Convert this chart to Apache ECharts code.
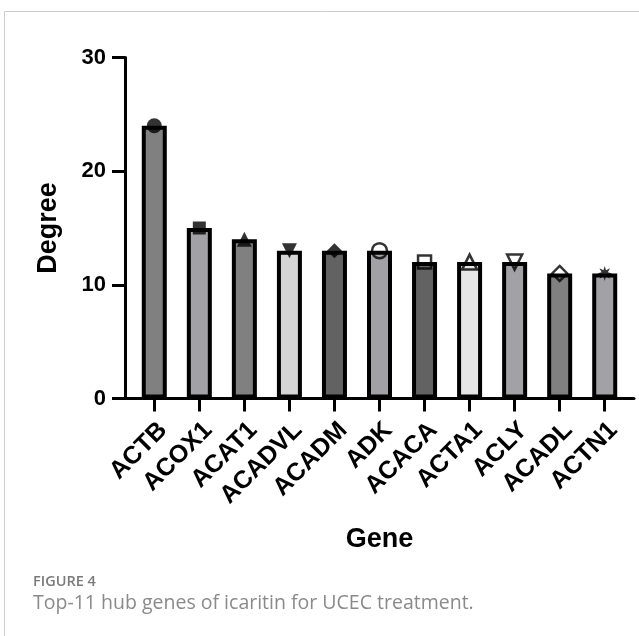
<!DOCTYPE html>
<html><head><meta charset="utf-8">
<script src="https://cdn.jsdelivr.net/npm/echarts@6/dist/echarts.min.js"></script>
<style>html,body{margin:0;padding:0;background:#fff}#c{width:639px;height:636px}</style>
</head><body><div id="c"></div>
<script>
const genes = ['ACTB','ACOX1','ACAT1','ACADVL','ACADM','ADK','ACACA','ACTA1','ACLY','ACADL','ACTN1'];
const degree = [24,15,14,13,13,13,12,12,12,11,11];
const yTicks = [0,10,20,30];
const barColors = ['#808080','#a1a1a6','#808080','#d5d5d5','#626262','#a1a1a6','#626262','#e6e6e6','#a1a1a6','#808080','#a1a1a6'];
// marker shape per gene: [symbol, rotate, filled]
function starPath(){
  let d='';
  for(let k=0;k<16;k++){
    const a=k*Math.PI/8 - Math.PI/2, r=(k%2===0)?10:4.5;
    d+=(k===0?'M':'L')+(r*Math.cos(a)).toFixed(2)+','+(r*Math.sin(a)).toFixed(2)+' ';
  }
  return 'path://'+d+'Z';
}
const markerShapes = [
  ['circle',0,true],['rect',0,true],['triangle',0,true],['triangle',180,true],['diamond',0,true],
  ['circle',0,false],['rect',0,false],['triangle',0,false],['triangle',180,false],['diamond',0,false],
  [starPath(),0,true]
];
const idx = genes.map((g,i)=>i);
const font = 'Liberation Sans, Arial, Helvetica, sans-serif';

const chart = echarts.init(document.getElementById('c'));
chart.setOption({
  animation:false,
  backgroundColor:'#fff',
  grid:{left:125,right:5,top:57.5,bottom:237.5,containLabel:false},
  xAxis:{
    type:'value',min:-0.65,max:10.65,
    axisLine:{show:true,onZero:false,lineStyle:{color:'#000',width:3}},
    axisTick:{show:true,customValues:idx,length:13,lineStyle:{color:'#000',width:3}},
    axisLabel:{customValues:idx,formatter:v=>genes[Math.round(v)],rotate:45,margin:19,
      align:'right',verticalAlign:'top',
      fontFamily:font,fontWeight:'bold',fontSize:25,color:'#000'},
    splitLine:{show:false},
    name:'Gene',nameLocation:'middle',nameGap:128,
    nameTextStyle:{fontFamily:font,fontWeight:'bold',fontSize:27,color:'#000'}
  },
  yAxis:{
    type:'value',min:0,max:30,interval:10,
    axisLine:{show:true,onZero:false,lineStyle:{color:'#000',width:3}},
    axisTick:{show:true,length:13,lineStyle:{color:'#000',width:3}},
    axisLabel:{margin:19,fontFamily:font,fontWeight:'bold',fontSize:22,color:'#000',
      formatter:v=>yTicks.includes(v)?String(v):''},
    splitLine:{show:false},
    name:'Degree',nameLocation:'middle',nameGap:63,
    nameTextStyle:{fontFamily:font,fontWeight:'bold',fontSize:27,color:'#000'}
  },
  series:[
    {type:'bar',barWidth:25,
     data:idx.map(i=>({value:[i,degree[i]],itemStyle:{color:barColors[i],borderColor:'#000',borderWidth:4}}))},
    {type:'scatter',z:5,
     data:idx.map(i=>{
       const m=markerShapes[i];
       return {value:[i,degree[i]],symbol:m[0],symbolRotate:m[1],symbolSize:m[0]==='rect'?13:15,
         itemStyle:m[2]?{color:'#000'}:{color:'rgba(0,0,0,0)',borderColor:'#000',borderWidth:2.5}};
     })}
  ],
  graphic:[
    {type:'rect',silent:true,shape:{x:4.5,y:11.5,width:700,height:700},
     style:{fill:'none',stroke:'#cccccc',lineWidth:1}},
    {type:'text',left:33,top:574,style:{text:'FIGURE 4',fontFamily:'Open Sans, Noto Sans, sans-serif',
      fontSize:14.5,fontWeight:600,fill:'#7a7a7a'}},
    {type:'text',left:33,top:593,style:{text:'Top-11 hub genes of icaritin for UCEC treatment.',
      fontFamily:'Open Sans, Noto Sans, sans-serif',fontSize:19.5,fill:'#8a8a8a'}}
  ]
});
</script></body></html>
